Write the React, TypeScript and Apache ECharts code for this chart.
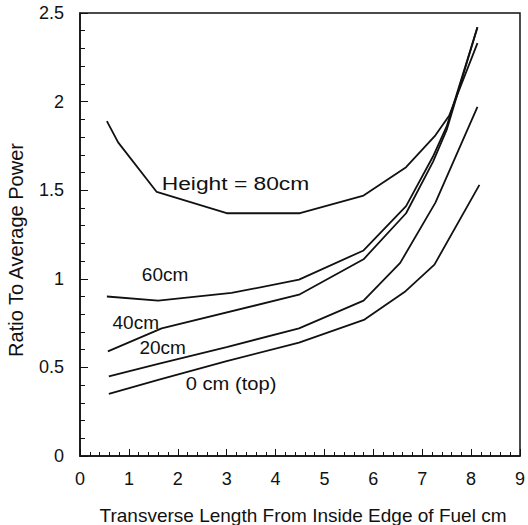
import { useEffect, useRef } from "react";
import * as echarts from "echarts";

// Transverse length (cm) and ratio to average power, per height
const x80 = [0.55, 0.78, 1.57, 3.0, 4.5, 5.8, 6.67, 7.27, 7.55, 8.13];
const y80 = [1.89, 1.77, 1.49, 1.37, 1.37, 1.47, 1.63, 1.81, 1.92, 2.33];

const x60 = [0.55, 1.6, 3.1, 4.48, 5.8, 6.67, 7.22, 7.5, 8.13];
const y60 = [0.9, 0.877, 0.92, 0.995, 1.16, 1.41, 1.69, 1.86, 2.42];

const x40 = [0.57, 1.67, 4.48, 5.8, 6.67, 7.22, 7.5, 8.13];
const y40 = [0.59, 0.72, 0.91, 1.11, 1.37, 1.66, 1.84, 2.42];

const x20 = [0.59, 1.6, 3.0, 4.48, 5.8, 6.55, 7.27, 8.13];
const y20 = [0.45, 0.52, 0.615, 0.72, 0.877, 1.09, 1.43, 1.97];

const x0 = [0.59, 1.6, 3.0, 4.48, 5.82, 6.66, 7.25, 8.17];
const y0 = [0.35, 0.43, 0.535, 0.64, 0.77, 0.93, 1.08, 1.53];

const curveLabels = ["Height = 80cm", "60cm", "40cm", "20cm", "0 cm (top)"];
const labelX = [3.18, 1.74, 1.14, 1.69, 3.09];
const labelY = [1.54, 1.027, 0.756, 0.61, 0.41];
const labelScale = [1.2, 1.0, 1.0, 1.0, 1.06];

const xTitle = "Transverse Length From Inside Edge of Fuel cm";
const yTitle = "Ratio To Average Power";

const FONT = "'Liberation Sans', Arial, Helvetica, sans-serif";
const INK = "#111";

function pairs(xs: number[], ys: number[]) {
  return xs.map((x, i) => [x, ys[i]]);
}

export default function App() {
  const ref = useRef<HTMLDivElement>(null);

  useEffect(() => {
    if (!ref.current) return;
    const chart = echarts.init(ref.current, undefined, { renderer: "svg" });

    const mk = (name: string, data: number[][]) => ({
      name,
      type: "line",
      data,
      showSymbol: false,
      symbol: "none",
      lineStyle: { color: INK, width: 1.8 },
      itemStyle: { color: INK },
      silent: true,
    });

    chart.setOption({
      animation: false,
      backgroundColor: "#fff",
      textStyle: { fontFamily: FONT },
      grid: {
        left: 80,
        right: 6,
        top: 13,
        bottom: 69,
        show: true,
        borderColor: INK,
        borderWidth: 1.5,
        backgroundColor: "transparent",
      },
      xAxis: {
        type: "value",
        min: 0,
        max: 9,
        interval: 1,
        axisLine: { show: true, onZero: false, lineStyle: { color: INK, width: 1.5 } },
        axisTick: { show: true, inside: true, length: 7, lineStyle: { color: INK } },
        minorTick: { show: true, splitNumber: 5, length: 4, lineStyle: { color: INK } },
        axisLabel: { fontSize: 18, color: INK, margin: 14, fontFamily: FONT },
        splitLine: { show: false },
      },
      yAxis: {
        type: "value",
        min: 0,
        max: 2.5,
        interval: 0.5,
        axisLine: { show: true, onZero: false, lineStyle: { color: INK, width: 1.5 } },
        axisTick: { show: true, inside: true, length: 8, lineStyle: { color: INK } },
        minorTick: { show: true, splitNumber: 5, length: 5, lineStyle: { color: INK } },
        axisLabel: { fontSize: 18, color: INK, margin: 16, fontFamily: FONT },
        splitLine: { show: false },
      },
      series: [
        mk("80cm", pairs(x80, y80)),
        mk("60cm", pairs(x60, y60)),
        mk("40cm", pairs(x40, y40)),
        mk("20cm", pairs(x20, y20)),
        mk("0cm", pairs(x0, y0)),
      ],
    });

    const labelEls = curveLabels.map((t, i) => {
      const p = chart.convertToPixel({ gridIndex: 0 }, [labelX[i], labelY[i]]) as number[];
      return {
        type: "text",
        x: p[0],
        y: p[1],
        scaleX: labelScale[i],
        silent: true,
        style: {
          text: t,
          font: `19px ${FONT}`,
          fill: INK,
          textAlign: "center",
          textVerticalAlign: "middle",
          align: "center",
          verticalAlign: "middle",
        },
      };
    });

    chart.setOption({
      graphic: [
        ...labelEls,
        {
          type: "text",
          x: 303,
          y: 515,
          silent: true,
          style: {
            text: xTitle,
            font: `19px ${FONT}`,
            fill: INK,
            textAlign: "center",
            textVerticalAlign: "middle",
            align: "center",
            verticalAlign: "middle",
          },
        },
        {
          type: "text",
          x: 16,
          y: 250,
          rotation: Math.PI / 2,
          silent: true,
          style: {
            text: yTitle,
            font: `20px ${FONT}`,
            fill: INK,
            textAlign: "center",
            textVerticalAlign: "middle",
            align: "center",
            verticalAlign: "middle",
          },
        },
      ],
    });

    return () => chart.dispose();
  }, []);

  return (
    <div
      ref={ref}
      style={{ position: "fixed", left: 0, top: 0, width: 528, height: 525, background: "#fff" }}
    />
  );
}
